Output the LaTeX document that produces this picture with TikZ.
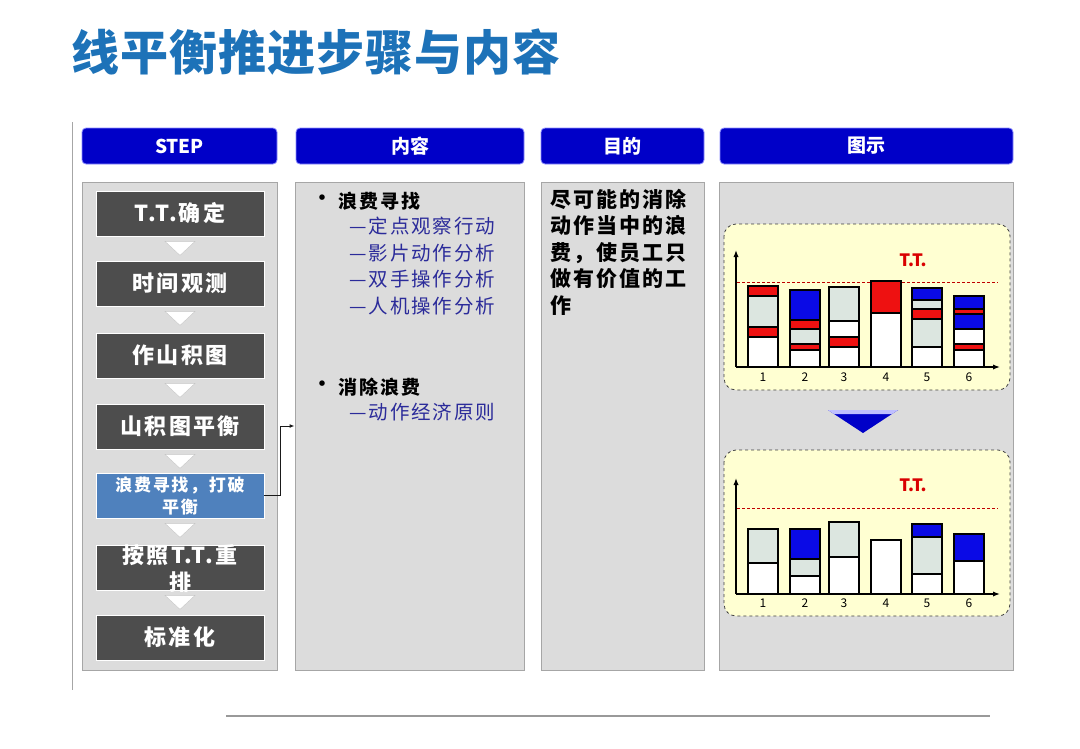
\documentclass[tikz,border=0pt]{standalone}
\usepackage{fontspec}
\setmainfont{Noto Sans CJK SC}
\usepackage{tikz}
\usetikzlibrary{positioning}
\usetikzlibrary{arrows.meta}

\definecolor{titleblue}{HTML}{1D72B8}
\definecolor{hdrblue}{HTML}{0000C8}
\definecolor{panelgray}{HTML}{DCDCDC}
\definecolor{stepgray}{HTML}{4D4D4D}
\definecolor{stepblue}{HTML}{4F81BD}
\definecolor{subblue}{HTML}{2B2B9A}
\definecolor{barg}{HTML}{DCE6E0}
\definecolor{barred}{HTML}{EE1111}
\definecolor{barblue}{HTML}{0A0AE6}
\definecolor{chartbg}{HTML}{FFFFD2}

\newcommand{\wide}{\addfontfeature{LetterSpace=10}}

\begin{document}
\begin{tikzpicture}[x=1pt,y=-1pt]
    \tikzset{
    hdr/.style={
        draw=blue!45,
        thick,
        fill=hdrblue,
        rounded corners=4pt,
        minimum height=36pt,
        text=white,
        font=\fontsize{19}{19}\selectfont\bfseries
    },
    panel/.style={
        draw=gray!70,
        thick,
        fill=panelgray,
        minimum height=488pt
    },
    stepbox/.style={
        draw=white,
        thick,
        fill=stepgray,
        minimum width=168pt,
        minimum height=45pt,
        text=white,
        font=\fontsize{22}{22}\selectfont\bfseries\wide
    },
    tri/.style={
        fill=white,
        draw=gray!45
    },
    link/.style={
        thick,
        gray!20!black,
        -{Latex[length=5pt]}
    },
    chartbox/.style={
        draw=black!75,
        thick,
        dashed,
        fill=chartbg,
        rounded corners=12pt
    },
    ttline/.style={
        red!75!black,
        densely dashed
    },
    bar/.style={
        draw=black,
        line width=1.2pt
    },
    axis/.style={
        line width=1.3pt,
        -{Latex[length=7pt]}
    }
}
    \useasboundingbox (0,0) rectangle (1080,748);

    \node[text=titleblue, font=\fontsize{48}{48}\selectfont\bfseries\addfontfeature{LetterSpace=2}] (title) at (316,52) {线平衡推进步骤与内容};
    \draw[gray!70, thick] (72,122) -- (72,690);
    \draw[gray!80, line width=1.8pt] (226,716) -- (990,716);

    \node[hdr, minimum width=195pt] (hStep) at (179.5,146) {STEP};
    \node[hdr, minimum width=228pt] (hCont) at (410,146) {内容};
    \node[hdr, minimum width=163pt] (hAim) at (622.5,146) {目的};
    \node[hdr, minimum width=293pt] (hFig) at (866.5,146) {图示};

    \node[panel, minimum width=195pt] (pStep) at (179.5,426) {};
    \node[panel, minimum width=229pt] (pCont) at (409.5,426) {};
    \node[panel, minimum width=163pt] (pAim) at (622.5,426) {};
    \node[panel, minimum width=294pt] (pFig) at (866,426) {};

    \node[stepbox] (s1) at (180,213.5) {T.T.确定};
    \node[stepbox] (s2) at (180,283.5) {时间观测};
    \node[stepbox] (s3) at (180,355.5) {作山积图};
    \node[stepbox] (s4) at (180,426.5) {山积图平衡};
    \node[stepbox, fill=stepblue] (s5) at (180,495.5) {};
    \node[text=white, align=center, font=\fontsize{17}{22}\selectfont\bfseries\wide] (s5t) at (180,495.5) {浪费寻找，打破\\平衡};
    \node[stepbox] (s6) at (180,567.5) {};
    \node[stepbox] (s7) at (180,637.5) {标准化};

    \foreach \a/\b in {s1/s2,s2/s3,s3/s4,s4/s5,s5/s6,s6/s7}
        \filldraw[tri] (\a.south) ++(-15,5) -- ++(30,0) -- ++(-15,14) -- cycle;

    \node[text=white, align=center, font=\fontsize{22}{27}\selectfont\bfseries\wide] (s6t) at (180,568.5) {按照T.T.重\\排};

    \draw[link] (s5.east) -- ++(16,0) |- (pCont.west);

    \node[anchor=west, font=\fontsize{26}{26}\selectfont] (b1) at (306,201) {•};
    \node[anchor=west, font=\fontsize{19}{19}\selectfont\bfseries\wide] (c1) at (335,201) {浪费寻找};
    \node[anchor=north west, align=left, text=subblue, inner sep=0pt,
          font=\fontsize{19.5}{26.5}\selectfont\wide] (c1sub) at (349,217) {—定点观察行动\\—影片动作分析\\—双手操作分析\\—人机操作分析};
    \node[anchor=west, font=\fontsize{26}{26}\selectfont] (b2) at (306,387) {•};
    \node[anchor=west, font=\fontsize{19}{19}\selectfont\bfseries\wide] (c2) at (335,387) {消除浪费};
    \node[anchor=north west, align=left, text=subblue, inner sep=0pt,
          font=\fontsize{19.5}{26.5}\selectfont\wide] (c2sub) at (349,403) {—动作经济原则};

    \node[anchor=north west, align=left, inner sep=0pt,
          font=\fontsize{21}{26.5}\selectfont\bfseries\wide] (aim) at (550,189) {尽可能的消除\\动作当中的浪\\费，使员工只\\做有价值的工\\作};

    % upper chart
    \draw[chartbox] (724,224) rectangle (1010,390);
    \draw[ttline] (737,282) -- (998,282);
    \node[text=red!85!black, font=\fontsize{17}{17}\selectfont\bfseries] (tt1) at (913,260) {T.T.};
    \foreach \bx/\ya/\yb/\c in {748/286/296/barred, 748/296/327/barg, 748/327/337/barred, 748/337/367/white,
        790/290/320/barblue, 790/320/329/barred, 790/329/344/barg, 790/344/350/barred, 790/350/367/white,
        829/287/321/barg, 829/321/337/white, 829/337/347/barred, 829/347/367/white,
        871/281/313/barred, 871/313/367/white,
        912/288/300/barblue, 912/300/309/barg, 912/309/319/barred, 912/319/347/barg, 912/347/367/white,
        954/296/309/barblue, 954/309/314/barred, 954/314/329/barblue, 954/329/344/white, 954/344/350/barred, 954/350/367/white}
        \filldraw[bar, fill=\c] (\bx,\ya) rectangle (\bx+30,\yb);
    \draw[axis] (736,367) -- (736,250);
    \draw[axis] (736,367) -- (1000,367);
    \foreach \n/\bx in {1/748,2/790,3/829,4/871,5/912,6/954}
        \node[font=\fontsize{12}{12}\selectfont] (la\n) at (\bx+15,377) {\n};

    % chevron
    \fill[hdrblue] (828,410) -- (898,410) -- (863,433) -- cycle;
    \fill[blue!25] (828,410) -- (898,410) -- (892,414) -- (834,414) -- cycle;

    % lower chart
    \draw[chartbox] (724,450) rectangle (1010,616);
    \draw[ttline] (737,508) -- (998,508);
    \node[text=red!85!black, font=\fontsize{17}{17}\selectfont\bfseries] (tt2) at (913,485) {T.T.};
    \foreach \bx/\ya/\yb/\c in {748/529/563/barg, 748/563/594/white,
        790/529/559/barblue, 790/559/576/barg, 790/576/594/white,
        829/522/557/barg, 829/557/594/white,
        871/540/594/white,
        912/524/537/barblue, 912/537/574/barg, 912/574/594/white,
        954/534/561/barblue, 954/561/594/white}
        \filldraw[bar, fill=\c] (\bx,\ya) rectangle (\bx+30,\yb);
    \draw[axis] (736,594) -- (736,478);
    \draw[axis] (736,594) -- (1000,594);
    \foreach \n/\bx in {1/748,2/790,3/829,4/871,5/912,6/954}
        \node[font=\fontsize{12}{12}\selectfont] (lb\n) at (\bx+15,603) {\n};
\end{tikzpicture}
\end{document}
